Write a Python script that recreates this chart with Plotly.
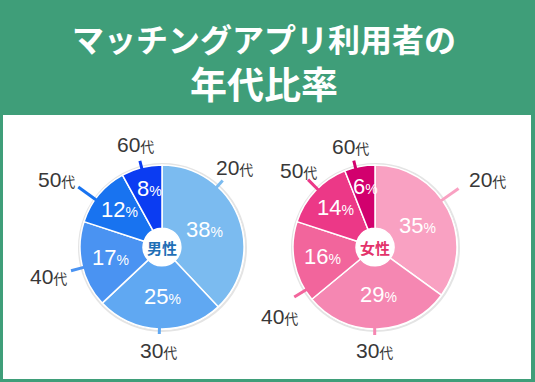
import math
import plotly.graph_objects as go

# ---------------- data ----------------
ages = ["20代", "30代", "40代", "50代", "60代"]
male_pct = [38, 25, 17, 12, 8]
female_pct = [35, 29, 16, 14, 6]
title_line1 = "マッチングアプリ利用者の"
title_line2 = "年代比率"
male_center = "男性"
female_center = "女性"

# ---------------- style ----------------
W, H = 535, 382
GREEN = "#3f9e79"
male_colors = ["#7bbbf0", "#60a8f2", "#4a93f2", "#1873f0", "#0b3cf2"]
female_colors = ["#f9a1c2", "#f587b2", "#f2659c", "#ec3887", "#d2006e"]
R = 82
HOLE = 0.23
charts = [
    dict(vals=male_pct, colors=male_colors, cx=162, cy=247, center=male_center,
         ccolor="#1f6fb6",
         shift=[-26, 0, -2, -4, 0], line_len=[8, 5, 12, 21, 7],
         label_shift=[0, 0, 0, -3, 0],
         label_dist=[107, 104, 117, 125, 106]),
    dict(vals=female_pct, colors=female_colors, cx=375, cy=247, center=female_center,
         ccolor="#e3336b",
         shift=[-8, 2, -21, 2, -3], line_len=[20, 6, 13, 13, 7],
         label_shift=[4, 0, -4, 0, 0],
         label_dist=[131, 104, 118, 108, 104]),
]


def px(x):
    return x / W


def py(y):
    return 1 - y / H


def polar(cx, cy, ang, r):
    a = math.radians(ang)
    return cx + r * math.sin(a), cy - r * math.cos(a)


def note(text, x, y, size, color, family, weight="normal"):
    return dict(text=text, x=px(x), y=py(y), xref="paper", yref="paper",
                xanchor="center", yanchor="middle", showarrow=False,
                font=dict(size=size, color=color, family=family, weight=weight))


fig = go.Figure()
shapes = [
    dict(type="rect", xref="paper", yref="paper", x0=px(3), x1=px(531), y0=py(379), y1=py(115),
         fillcolor="white", line=dict(width=0), layer="below"),
]
annotations = [
    note(title_line1, 264, 38, 32, "white", "Noto Sans CJK JP", "bold"),
    note(title_line2, 264, 83, 37, "white", "Noto Sans CJK JP", "bold"),
]

for ch in charts:
    cx, cy = ch["cx"], ch["cy"]
    fig.add_trace(go.Pie(
        values=ch["vals"], labels=ages, sort=False, direction="clockwise", rotation=0,
        hole=HOLE, textinfo="none", hoverinfo="skip", showlegend=False,
        marker=dict(colors=ch["colors"], line=dict(color="white", width=1.5)),
        domain=dict(x=[px(cx - R), px(cx + R)], y=[py(cy + R), py(cy - R)]),
    ))
    # soft outer ring
    shapes.append(dict(type="circle", xref="paper", yref="paper",
                       x0=px(cx - R - 1), x1=px(cx + R + 2), y0=py(cy + R + 2), y1=py(cy - R - 1),
                       line=dict(color="#e4e4e4", width=2), layer="below"))
    total = sum(ch["vals"])
    cum = 0
    for i, v in enumerate(ch["vals"]):
        mid = (cum + v / 2) / total * 360
        cum += v
        # percentage text
        rt = R * (0.78 - 0.0065 * v)
        tx, ty = polar(cx, cy, mid, rt)
        annotations.append(note(f"{v}<span style='font-size:14px'>%</span>", tx + 2, ty - 1,
                                22, "white", "Liberation Sans"))
        # leader line
        ang = mid + ch["shift"][i]
        x1, y1 = polar(cx, cy, ang, R - 2)
        x2, y2 = polar(cx, cy, ang, R + ch["line_len"][i])
        shapes.append(dict(type="line", xref="paper", yref="paper",
                           x0=px(x1), y0=py(y1), x1=px(x2), y1=py(y2),
                           line=dict(color=ch["colors"][i], width=3), layer="above"))
        lx, ly = polar(cx, cy, ang + ch["label_shift"][i], ch["label_dist"][i])
        lab = ages[i]
        annotations.append(note(f"{lab[:-1]}<span style='font-size:14px'>{lab[-1]}</span>",
                                lx, ly, 21, "#383838", "Liberation Sans, Noto Sans CJK JP"))
    annotations.append(note(ch["center"], cx, cy, 15, ch["ccolor"], "Noto Sans CJK JP", "bold"))

fig.update_layout(
    width=W, height=H, margin=dict(l=0, r=0, t=0, b=0),
    paper_bgcolor=GREEN, plot_bgcolor=GREEN,
    shapes=shapes, annotations=annotations,
)
fig.write_html("out.html", config={"displayModeBar": False},
               post_script="document.body.style.margin='0';document.body.style.overflow='hidden';")
